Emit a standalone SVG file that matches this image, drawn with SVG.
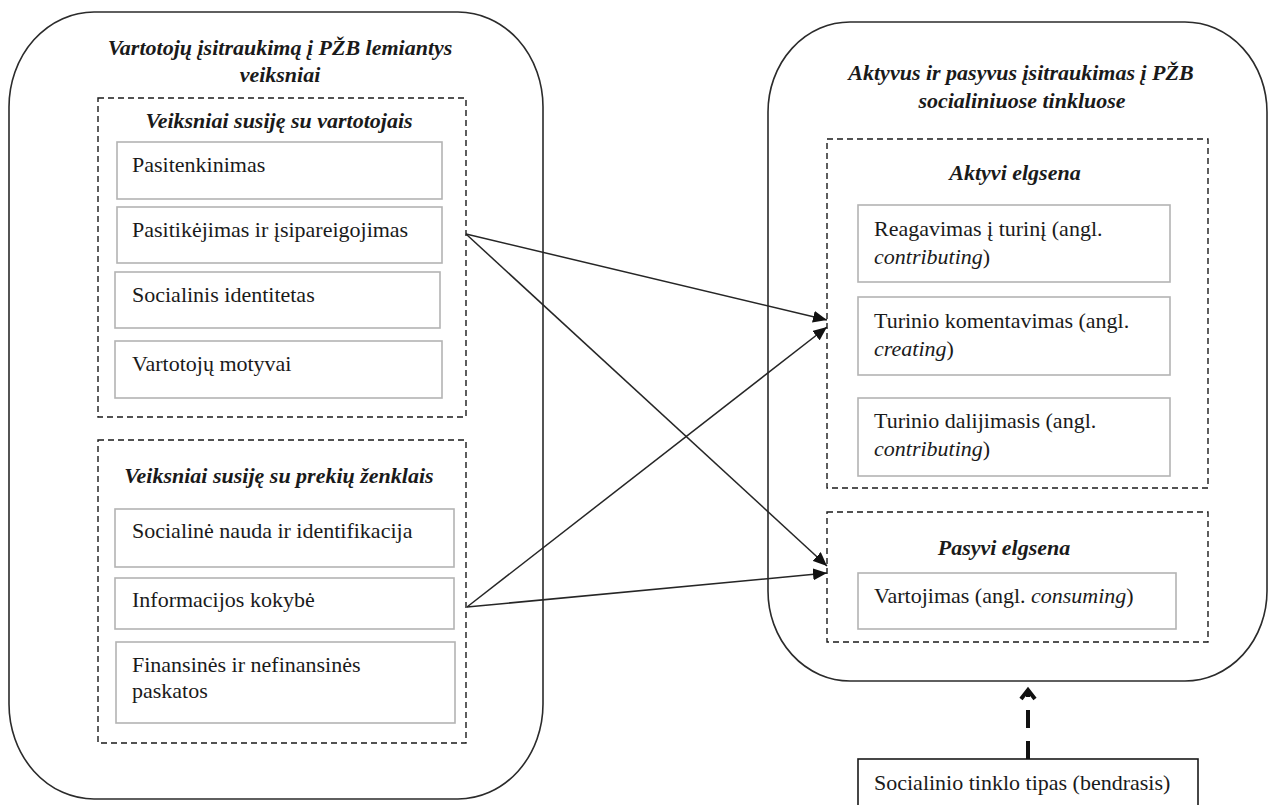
<svg xmlns="http://www.w3.org/2000/svg" width="1270" height="805" viewBox="0 0 1270 805">
  <style>
    .outer { fill: none; stroke: #2b2b2b; stroke-width: 1.6; }
    .group { fill: none; stroke: #1a1a1a; stroke-width: 1.4; stroke-dasharray: 6 4; }
    .item { fill: #ffffff; stroke: #b3b3b3; stroke-width: 1.6; }
    .plain { fill: #ffffff; stroke: #1a1a1a; stroke-width: 1.6; }
    text { font-size: 22px; fill: #1a1a1a; }
    .head { font-weight: bold; font-style: italic; text-anchor: middle; }
    .it { font-style: italic; }
    .link { fill: none; stroke: #262626; stroke-width: 1.5; }
    .dep { fill: none; stroke: #111111; stroke-width: 4; stroke-dasharray: 18 13; }
  </style>
  <defs>
    <marker id="tri" markerUnits="userSpaceOnUse" markerWidth="16" markerHeight="12" refX="14" refY="6" orient="auto">
      <path d="M0,0 L14,6 L0,12 Z" fill="#111111"/>
    </marker>
  </defs>

  <g font-family="Liberation Serif, DejaVu Serif, serif">
  <!-- Left container: determinants -->
  <g id="determinants">
    <rect class="outer" x="9" y="12" width="534" height="787" rx="85" ry="95"/>
    <text class="head" x="280" y="55">Vartotojų įsitraukimą į PŽB lemiantys</text>
    <text class="head" x="280" y="82">veiksniai</text>
  </g>

  <g id="consumer-factors">
    <rect class="group" x="98" y="98" width="368" height="319"/>
    <text class="head" x="279" y="128">Veiksniai susiję su vartotojais</text>
  </g>
  <g id="satisfaction">
    <rect class="item" x="117" y="142" width="325" height="57"/>
    <text x="132" y="172">Pasitenkinimas</text>
  </g>
  <g id="trust">
    <rect class="item" x="117" y="207" width="325" height="56"/>
    <text x="132" y="237">Pasitikėjimas ir įsipareigojimas</text>
  </g>
  <g id="identity">
    <rect class="item" x="115" y="272" width="325" height="56"/>
    <text x="132" y="302">Socialinis identitetas</text>
  </g>
  <g id="motives">
    <rect class="item" x="115" y="341" width="327" height="57"/>
    <text x="132" y="371">Vartotojų motyvai</text>
  </g>

  <g id="brand-factors">
    <rect class="group" x="98" y="440" width="368" height="303"/>
    <text class="head" x="279" y="483">Veiksniai susiję su prekių ženklais</text>
  </g>
  <g id="social-benefit">
    <rect class="item" x="115" y="509" width="339" height="58"/>
    <text x="132" y="538">Socialinė nauda ir identifikacija</text>
  </g>
  <g id="info-quality">
    <rect class="item" x="115" y="578" width="339" height="51"/>
    <text x="132" y="607">Informacijos kokybė</text>
  </g>
  <g id="incentives">
    <rect class="item" x="116" y="642" width="339" height="81"/>
    <text x="132" y="672">Finansinės ir nefinansinės</text>
    <text x="132" y="698">paskatos</text>
  </g>

  <!-- Right container: engagement -->
  <g id="engagement">
    <rect class="outer" x="768" y="22" width="499" height="659" rx="82" ry="90"/>
    <text class="head" x="1021" y="80">Aktyvus ir pasyvus įsitraukimas į PŽB</text>
    <text class="head" x="1022" y="108">socialiniuose tinkluose</text>
  </g>

  <g id="active">
    <rect class="group" x="827" y="139" width="381" height="349"/>
    <text class="head" x="1015" y="180">Aktyvi elgsena</text>
  </g>
  <g id="reacting">
    <rect class="item" x="858" y="205" width="312" height="77"/>
    <text x="874" y="236">Reagavimas į turinį (angl.</text>
    <text x="874" y="264"><tspan class="it">contributing</tspan>)</text>
  </g>
  <g id="commenting">
    <rect class="item" x="858" y="297" width="312" height="78"/>
    <text x="874" y="328">Turinio komentavimas (angl.</text>
    <text x="874" y="356"><tspan class="it">creating</tspan>)</text>
  </g>
  <g id="sharing">
    <rect class="item" x="858" y="398" width="312" height="78"/>
    <text x="874" y="428">Turinio dalijimasis (angl.</text>
    <text x="874" y="456"><tspan class="it">contributing</tspan>)</text>
  </g>

  <g id="passive">
    <rect class="group" x="827" y="512" width="381" height="130"/>
    <text class="head" x="1004" y="555">Pasyvi elgsena</text>
  </g>
  <g id="consuming">
    <rect class="item" x="858" y="573" width="318" height="56"/>
    <text x="874" y="603">Vartojimas (angl. <tspan class="it">consuming</tspan>)</text>
  </g>

  <g id="network-type">
    <rect class="plain" x="858" y="759" width="340" height="60"/>
    <text x="874" y="790">Socialinio tinklo tipas (bendrasis)</text>
  </g>
  </g>

  <!-- Connectors -->
  <g id="connectors">
    <line class="link" x1="466" y1="234" x2="827" y2="320" marker-end="url(#tri)"/>
    <line class="link" x1="466" y1="234" x2="827" y2="566" marker-end="url(#tri)"/>
    <line class="link" x1="467" y1="607" x2="827" y2="327" marker-end="url(#tri)"/>
    <line class="link" x1="467" y1="607" x2="827" y2="573" marker-end="url(#tri)"/>
    <line class="dep" x1="1028" y1="759" x2="1028" y2="693"/>
    <path d="M1021,699 L1028,690 L1035,699" fill="none" stroke="#111111" stroke-width="4"/>
  </g>
</svg>
